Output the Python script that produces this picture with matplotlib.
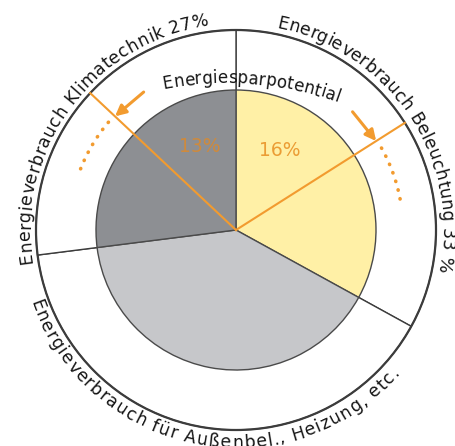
import numpy as np
import matplotlib

matplotlib.use("Agg")
import matplotlib.pyplot as plt
from matplotlib.patches import Circle
from matplotlib.font_manager import FontProperties
from matplotlib.textpath import TextToPath

# data
segment_labels = [
    "Energieverbrauch Beleuchtung 33 %",
    "Energieverbrauch für Außenbel., Heizung, etc.",
    "Energieverbrauch Klimatechnik 27%",
]
shares = [33, 40, 27]
saving_values = [16, 13]  # Beleuchtung, Klimatechnik
saving_labels = ["16%", "13%"]
inner_title = "Energiesparpotential"

# style
W, H, DPI = 456, 446, 100
CX, CY = 236, 216
R_IN, R_OUT = 140, 200
COLORS = ["#fff0a6", "#c6c7ca", "#8d8f93"]
ORANGE = "#f29b2f"
DARK = "#3c3c3c"
FONT = "DejaVu Sans"

t2p = TextToPath()


def text_w(s, fp):
    return t2p.get_text_width_height_descent(s, fp, ismath=False)[0] * DPI / 72.0


def char_centers(text, fp):
    ref = text_w("x", fp)
    lefts = [0.0]
    for i in range(1, len(text)):
        lefts.append(text_w(text[:i] + "x", fp) - ref)
    total = text_w(text, fp)
    lefts.append(total)
    centers = [(lefts[i] + lefts[i + 1]) / 2 for i in range(len(text))]
    return centers, total


def arc_text(ax, text, cx, cy, r, mid_deg, span_deg, size, clockwise=True, color="#151515"):
    fp = FontProperties(family=FONT, size=size)
    centers, total = char_centers(text, fp)
    scale = np.radians(span_deg) * r / total
    for ch, c in zip(text, centers):
        if ch == " ":
            continue
        s = (c - total / 2) * scale / r
        if clockwise:
            a = np.radians(mid_deg) - s
            rot = np.degrees(a) - 90
        else:
            a = np.radians(mid_deg) + s
            rot = np.degrees(a) + 90
        ax.text(cx + r * np.cos(a), cy + r * np.sin(a), ch, rotation=rot,
                rotation_mode="anchor", ha="center", va="baseline",
                fontproperties=fp, color=color, zorder=6)


def pt(angle_deg, r):
    a = np.radians(angle_deg)
    return CX + r * np.cos(a), CY + r * np.sin(a)


fig = plt.figure(figsize=(W / DPI, H / DPI), dpi=DPI)
ax = fig.add_axes([0, 0, 1, 1])

# outer ring and inner pie
ax.pie(shares, radius=R_OUT, center=(CX, CY), startangle=90, counterclock=False,
       colors=["white"] * 3, wedgeprops=dict(edgecolor=DARK, linewidth=1.0))
ax.add_patch(Circle((CX, CY), R_OUT, fill=False, edgecolor=DARK, lw=1.6, zorder=3))
ax.pie(shares, radius=R_IN, center=(CX, CY), startangle=90, counterclock=False,
       colors=COLORS, wedgeprops=dict(edgecolor="#4a4a4a", linewidth=1.0))

# saving lines
ang_bel = 90 - saving_values[0] / 100 * 360
ang_kli = 90 + saving_values[1] / 100 * 360
for a in (ang_bel, ang_kli):
    x, y = pt(a, R_OUT)
    ax.plot([CX, x], [CY, y], color=ORANGE, lw=1.5, zorder=4)

# saving labels
mids = [90 - saving_values[0] / 100 * 180, 90 + saving_values[1] / 100 * 180]
label_cols = ["#eb9d35", "#cf8a3c"]
for lab, m, c in zip(saving_labels, mids, label_cols):
    x, y = pt(m, 91)
    ax.text(x, y, lab, ha="center", va="center", fontsize=13.5, color=c,
            family=FONT, zorder=5)

# arrows in the ring
r_arr = 166
for line_a, sign in ((ang_kli, 1), (ang_bel, -1)):
    ax.annotate("", xy=pt(line_a, r_arr), xytext=pt(line_a - sign * 13, r_arr),
                arrowprops=dict(arrowstyle="-|>", color=ORANGE, lw=2.2,
                                mutation_scale=16, shrinkA=0, shrinkB=0),
                zorder=5)
    aa = np.linspace(line_a + sign * 3, line_a + sign * 23, 40)
    xs, ys = pt(aa, r_arr + 1)
    ax.plot(xs, ys, color=ORANGE, lw=2.6, linestyle=(0, (0.1, 2.4)),
            dash_capstyle="round", zorder=5)

# curved labels
arc_text(ax, segment_labels[0], CX, CY, 206, 33.4, 90.7, 12.5, clockwise=True)
arc_text(ax, segment_labels[2], CX, CY, 206, 143.2, 91.9, 12.5, clockwise=True)
arc_text(ax, segment_labels[1], CX, CY, 218, 259.0, 120.0, 12.5, clockwise=False)
arc_text(ax, inner_title, 226, 35, 328, 85.5, 30.9, 12, clockwise=True)

ax.set_xlim(0, W)
ax.set_ylim(0, H)
ax.set_aspect("equal")
ax.axis("off")
fig.savefig("out.png", dpi=DPI, facecolor="white")
